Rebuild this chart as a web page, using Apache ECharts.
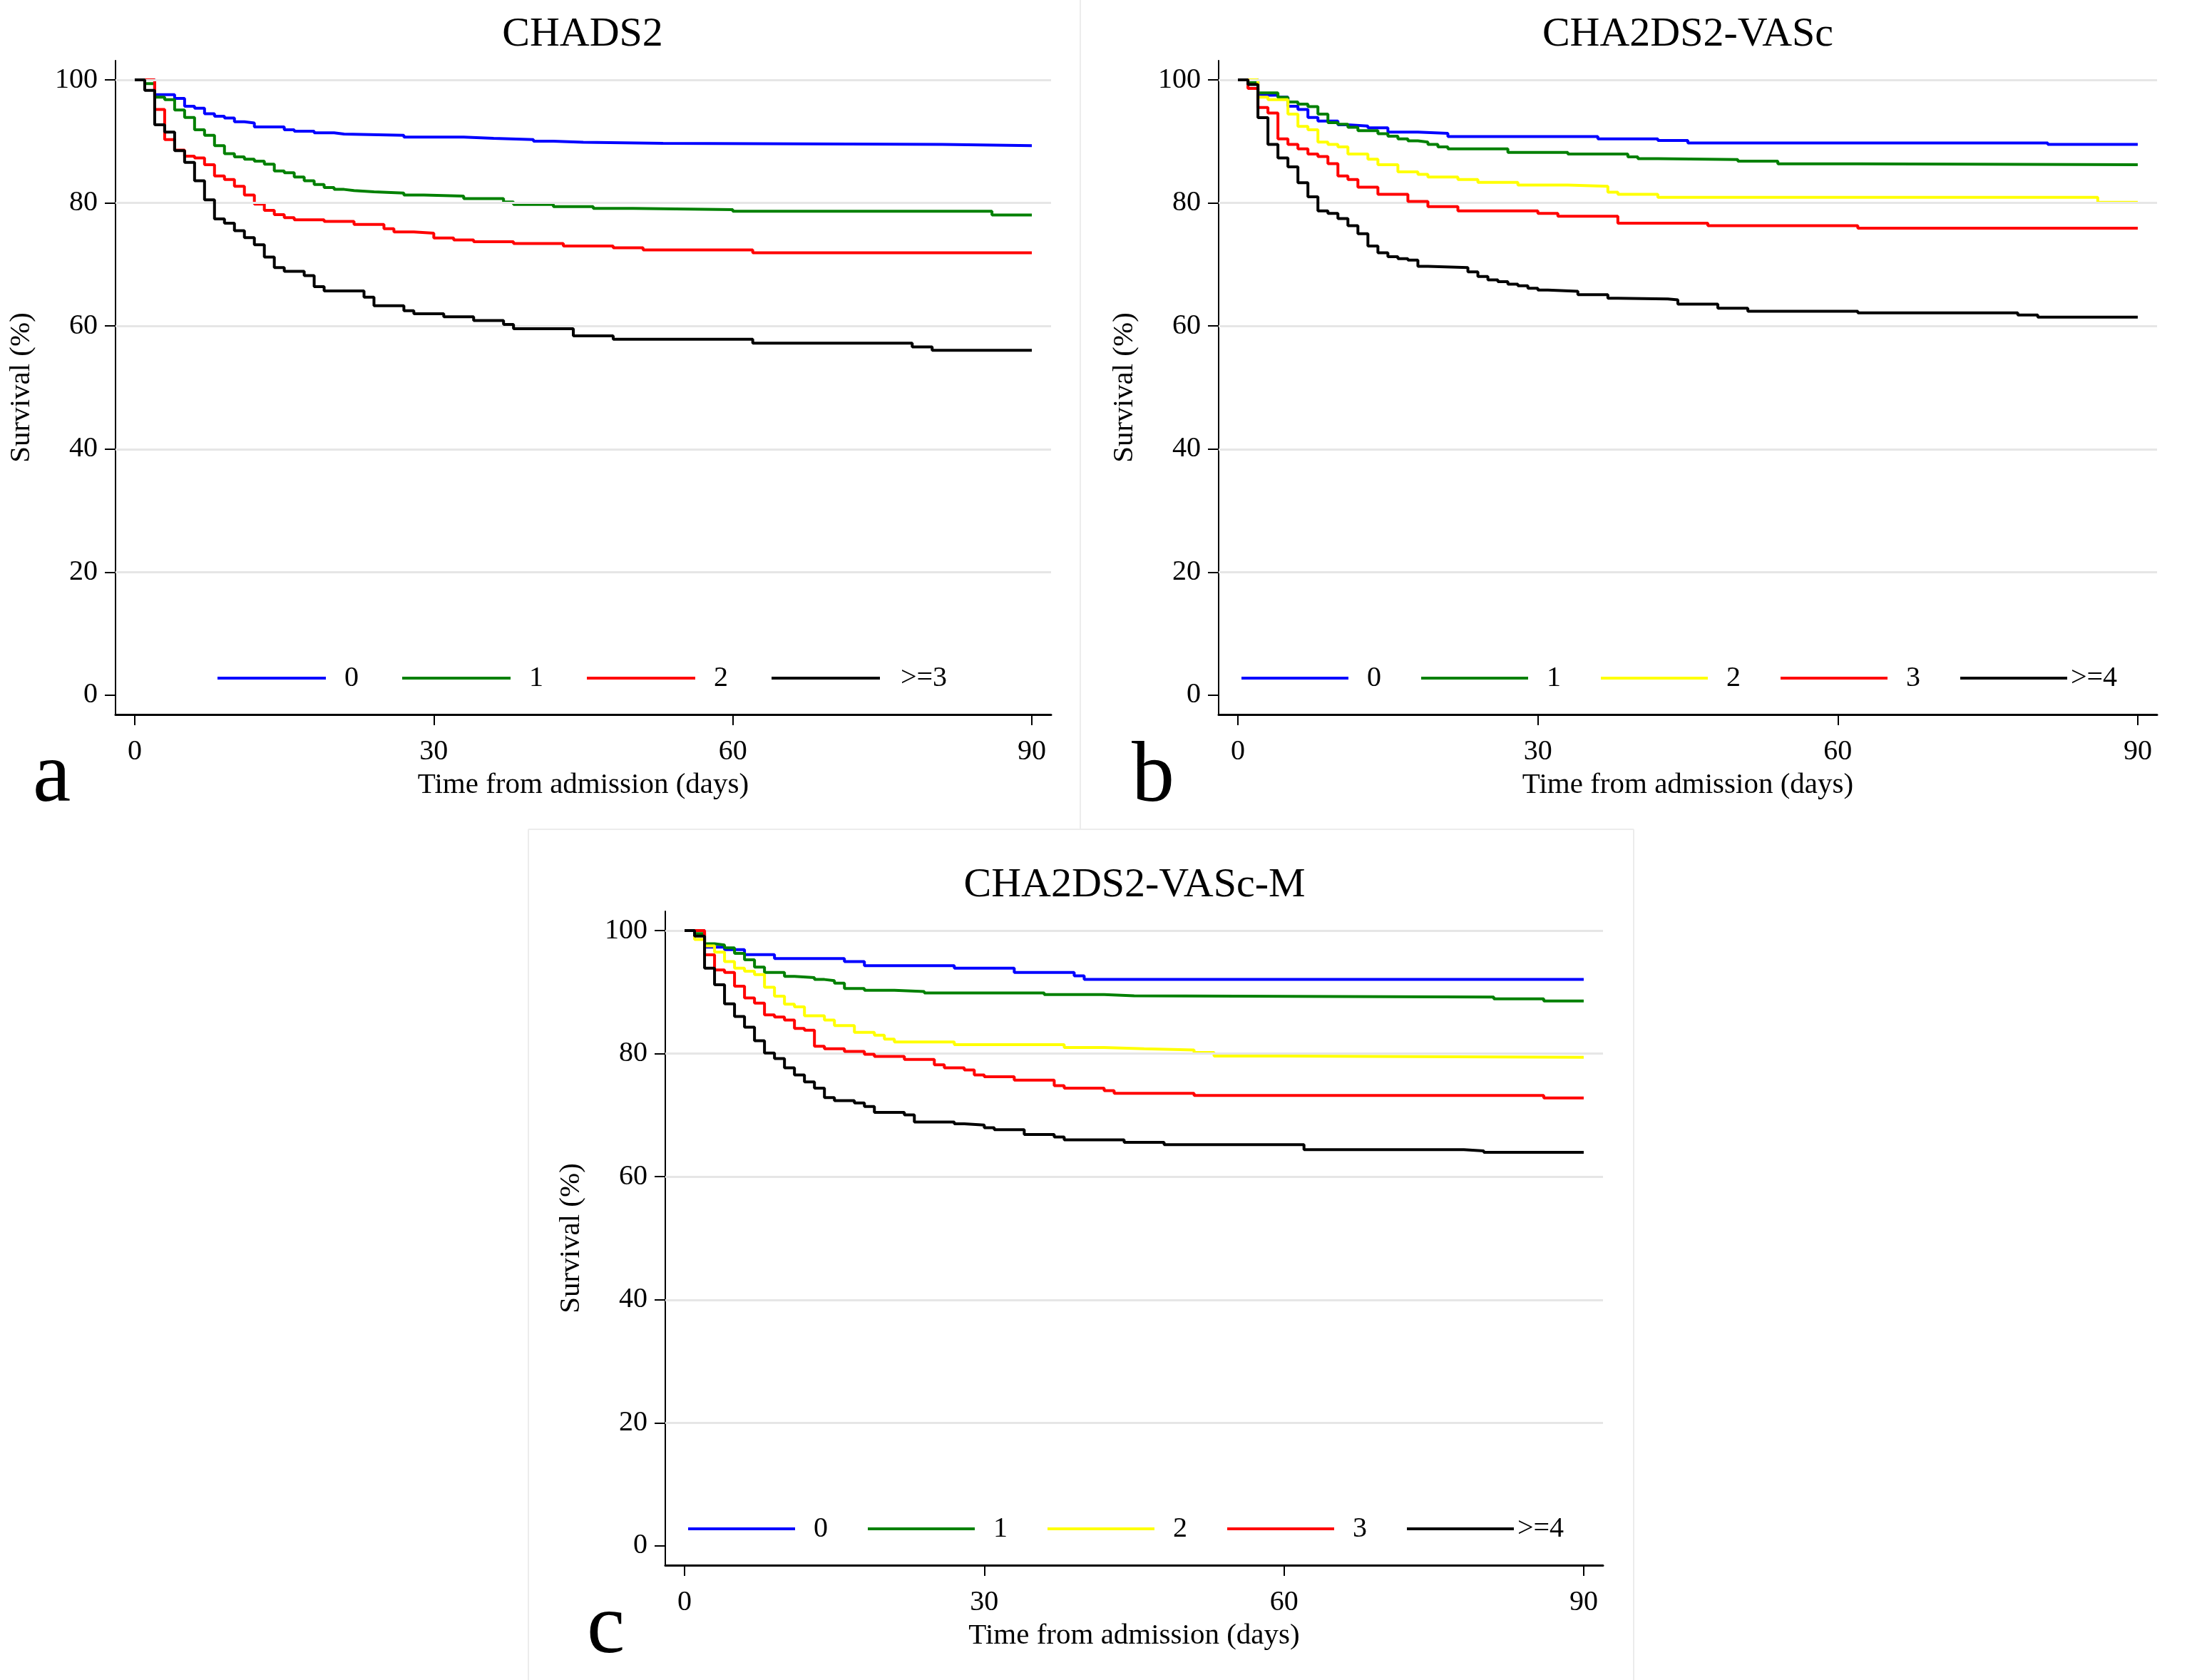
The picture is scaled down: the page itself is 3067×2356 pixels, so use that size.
<!DOCTYPE html>
<html>
<head>
<meta charset="utf-8">
<script src="https://cdn.jsdelivr.net/npm/echarts@6/dist/echarts.min.js"></script>
<style>
html,body{margin:0;padding:0;background:#fff;}
#chart{width:3067px;height:2356px;}
</style>
</head>
<body>
<div id="chart"></div>
<script>
// ---------- DATA (Kaplan–Meier steps: [day, survival %]) ----------
const panelTitles = ['CHADS2', 'CHA2DS2-VASc', 'CHA2DS2-VASc-M'];
const panelLetters = ['a', 'b', 'c'];
const groupsA = ['0', '1', '2', '>=3'];
const groupsBC = ['0', '1', '2', '3', '>=4'];
const xTicks = [0, 30, 60, 90];
const yTicks = [0, 20, 40, 60, 80, 100];
const gridValues = [20, 40, 60, 80, 100];
const xTitle = 'Time from admission (days)';
const yTitle = 'Survival (%)';

// Panel a: CHADS2
const chads2_0 = [[0,100],[2,97.6],[4,97.0],[5,95.7],[6,95.4],[7,94.5],[8,94.1],[9,93.8],[10,93.2],[11,93.0],[12,92.35],[15,91.9],[16,91.65],[18,91.4],[20,91.2],[21,91.0],[27,90.7],[33,90.5],[36,90.3],[40,90.05],[42,89.85],[45,89.7],[53,89.5],[81,89.3],[90,89.3]];
const chads2_1 = [[0,100],[1,99.4],[2,97.2],[3,96.8],[4,95.1],[5,93.9],[6,91.9],[7,91.0],[8,89.3],[9,88.0],[10,87.5],[11,87.1],[12,86.8],[13,86.3],[14,85.2],[15,84.9],[16,84.2],[17,83.6],[18,83.0],[19,82.5],[20,82.2],[21,82.0],[22,81.8],[24,81.6],[27,81.3],[29,81.1],[33,80.7],[37,80.15],[38,79.75],[42,79.4],[46,79.1],[50,78.9],[60,78.65],[86,78.05],[90,78.05]];
const chads2_2 = [[0,100],[2,95.2],[3,90.3],[4,88.6],[5,87.6],[6,87.3],[7,86.2],[8,84.4],[9,83.8],[10,82.7],[11,81.3],[12,79.8],[13,78.8],[14,78.1],[15,77.6],[16,77.25],[19,77.0],[22,76.5],[25,75.8],[26,75.3],[28,75.1],[30,74.3],[32,74.0],[34,73.7],[38,73.4],[43,73.0],[48,72.7],[51,72.35],[62,71.9],[90,71.9]];
const chads2_3 = [[0,100],[1,98.3],[2,92.7],[3,91.5],[4,88.5],[5,86.6],[6,83.6],[7,80.5],[8,77.4],[9,76.7],[10,75.5],[11,74.35],[12,73.2],[13,71.2],[14,69.5],[15,68.9],[17,68.2],[18,66.4],[19,65.7],[23,64.7],[24,63.3],[27,62.5],[28,62.0],[31,61.5],[34,60.9],[37,60.25],[38,59.55],[44,58.4],[48,57.85],[62,57.2],[78,56.6],[80,56.05],[90,56.05]];

// Panel b: CHA2DS2-VASc
const vasc_0 = [[0,100],[2,97.5],[4,97.2],[5,95.7],[6,95.2],[7,93.9],[8,93.3],[10,92.7],[11,92.5],[13,92.2],[15,91.5],[18,91.3],[21,90.8],[36,90.4],[42,90.15],[45,89.75],[81,89.5],[90,89.5]];
const vasc_1 = [[0,100],[1,99.65],[2,97.9],[4,97.15],[5,96.4],[6,96.05],[7,95.65],[8,94.45],[9,93.05],[10,92.8],[11,92.3],[12,91.75],[14,91.25],[15,90.85],[16,90.4],[17,90.1],[18,89.9],[19,89.5],[20,89.1],[21,88.8],[27,88.2],[33,87.95],[39,87.5],[40,87.2],[42,87.05],[50,86.8],[54,86.35],[62,86.2],[90,86.2]];
const vasc_2 = [[0,100],[2,97.2],[3,96.8],[5,94.45],[6,92.45],[7,91.9],[8,89.9],[9,89.5],[10,89.1],[11,87.95],[13,87.1],[14,86.2],[16,85.05],[18,84.65],[19,84.2],[22,83.8],[24,83.35],[28,82.9],[33,82.7],[37,81.75],[38,81.4],[42,80.9],[86,80.1],[90,80.1]];
const vasc_3 = [[0,100],[1,98.6],[2,95.5],[3,94.6],[4,90.4],[5,89.5],[6,88.8],[7,87.95],[8,87.55],[9,86.4],[10,84.4],[11,83.8],[12,82.55],[14,81.4],[17,80.25],[19,79.4],[22,78.7],[30,78.3],[32,77.85],[38,76.7],[47,76.3],[62,75.9],[90,75.9]];
const vasc_4 = [[0,100],[1,99.25],[2,93.85],[3,89.5],[4,87.3],[5,85.85],[6,83.3],[7,81.0],[8,78.7],[9,78.3],[10,77.45],[11,76.3],[12,75.0],[13,73.0],[14,71.9],[15,71.25],[16,70.95],[17,70.7],[18,69.7],[19,69.5],[23,68.8],[24,68.05],[25,67.5],[26,67.2],[27,66.8],[28,66.55],[29,66.15],[30,65.85],[31,65.65],[34,65.1],[37,64.5],[38,64.4],[43,64.25],[44,63.55],[48,62.9],[51,62.4],[62,62.15],[78,61.8],[80,61.45],[90,61.45]];

// Panel c: CHA2DS2-VASc-M
const vascm_0 = [[0,100],[2,97.3],[4,96.9],[6,96.1],[9,95.45],[16,94.95],[18,94.3],[27,93.9],[33,93.2],[39,92.65],[40,92.05],[90,92.05]];
const vascm_1 = [[0,100],[1,99.5],[2,97.85],[3,97.65],[4,97.2],[5,96.3],[6,95.25],[7,94.05],[8,93.2],[10,92.55],[11,92.35],[13,92.05],[14,91.85],[15,91.45],[16,90.6],[18,90.3],[21,90.1],[24,89.85],[36,89.6],[42,89.4],[45,89.2],[81,88.9],[86,88.55],[90,88.55]];
const vascm_2 = [[0,100],[1,98.55],[2,97.5],[3,96.5],[4,94.95],[5,93.9],[6,93.4],[7,92.85],[8,90.8],[9,89.35],[10,88.05],[11,87.6],[12,86.15],[14,85.45],[15,84.55],[17,83.45],[19,83.0],[20,82.35],[21,81.9],[27,81.45],[38,81.0],[42,80.8],[46,80.6],[51,80.2],[53,79.6],[60,79.4],[90,79.4]];
const vascm_3 = [[0,100],[2,96.05],[3,93.6],[4,93.2],[5,90.95],[6,89.05],[7,88.2],[8,86.3],[9,85.95],[10,85.45],[11,84.1],[12,83.8],[13,81.2],[14,80.8],[16,80.35],[18,79.9],[19,79.55],[22,79.05],[25,78.2],[26,77.7],[28,77.35],[29,76.55],[30,76.25],[33,75.7],[37,74.8],[38,74.4],[42,74.0],[43,73.55],[51,73.2],[86,72.8],[90,72.8]];
const vascm_4 = [[0,100],[1,99.1],[2,93.9],[3,91.2],[4,88.1],[5,86.05],[6,84.3],[7,82.1],[8,80.1],[9,79.2],[10,77.7],[11,76.55],[12,75.4],[13,74.4],[14,72.85],[15,72.35],[17,72.0],[18,71.4],[19,70.45],[22,70.05],[23,68.9],[27,68.6],[28,68.4],[30,67.95],[31,67.65],[34,66.85],[37,66.45],[38,66.0],[44,65.6],[48,65.2],[62,64.4],[78,64.2],[80,63.95],[90,63.95]];

const colorsA = ['#0000ff', '#008000', '#ff0000', '#000000'];
const colorsBC = ['#0000ff', '#008000', '#ffff00', '#ff0000', '#000000'];

// ---------- LAYOUT / STYLE ----------
const FONT = "'Liberation Serif','Times New Roman',serif";
const XMIN = -1.93, XMAX = 91.93, YMIN = -3.13, YMAX = 103.13;
const CURVE_W = 4;

const panels = [
  { key: 'a', groups: groupsA, colors: colorsA, data: [chads2_0, chads2_1, chads2_2, chads2_3],
    grid: { left: 162, top: 85, width: 1312, height: 917 },
    legend: { left: 305, top: 931, itemWidth: 152, itemGap: 40, widePad: 24 } },
  { key: 'b', groups: groupsBC, colors: colorsBC, data: [vasc_0, vasc_1, vasc_2, vasc_3, vasc_4],
    grid: { left: 1709, top: 85, width: 1316, height: 917 },
    legend: { left: 1741, top: 931, itemWidth: 150, itemGap: 35, widePad: 0 } },
  { key: 'c', groups: groupsBC, colors: colorsBC, data: [vascm_0, vascm_1, vascm_2, vascm_3, vascm_4],
    grid: { left: 933, top: 1278, width: 1315, height: 917 },
    legend: { left: 965, top: 2124, itemWidth: 150, itemGap: 35, widePad: 0 } }
];

const grids = [], xAxes = [], yAxes = [], legends = [], series = [], graphics = [];

panels.forEach((p, i) => {
  grids.push(Object.assign({ containLabel: false, outerBoundsMode: 'none' }, p.grid));
  xAxes.push({
    type: 'value', gridIndex: i, min: XMIN, max: XMAX,
    name: xTitle, nameLocation: 'middle', nameGap: 79,
    nameTextStyle: { fontFamily: FONT, fontSize: 41, color: '#000' },
    axisLine: { show: true, onZero: false, lineStyle: { color: '#000', width: 3 } },
    axisTick: { show: true, length: 15, lineStyle: { color: '#000', width: 2 }, customValues: xTicks },
    axisLabel: { show: true, margin: 32, fontFamily: FONT, fontSize: 40, color: '#000', customValues: xTicks },
    splitLine: { show: false }
  });
  yAxes.push({
    type: 'value', gridIndex: i, min: YMIN, max: YMAX,
    name: yTitle, nameLocation: 'middle', nameGap: 111,
    nameTextStyle: { fontFamily: FONT, fontSize: 41, color: '#000' },
    axisLine: { show: true, onZero: false, lineStyle: { color: '#000', width: 2 } },
    axisTick: { show: true, length: 15, lineStyle: { color: '#000', width: 2 }, customValues: yTicks },
    axisLabel: { show: true, margin: 25, fontFamily: FONT, fontSize: 40, color: '#000', customValues: yTicks },
    splitLine: { show: false }
  });
  // grid lines (through the axis scale via markLine)
  series.push({
    type: 'line', name: '__grid' + i, xAxisIndex: i, yAxisIndex: i, z: 1,
    data: [[0, 100]], showSymbol: false, symbol: 'none', lineStyle: { width: 0 },
    silent: true,
    markLine: {
      silent: true, symbol: ['none', 'none'], label: { show: false },
      lineStyle: { color: '#e6e6e6', width: 3, type: 'solid' },
      data: gridValues.map(v => ({ yAxis: v }))
    }
  });
  const names = [];
  p.groups.forEach((g, j) => {
    const nm = p.key + '|' + g;
    names.push(nm);
    series.push({
      type: 'line', name: nm, xAxisIndex: i, yAxisIndex: i, z: 2 + j,
      step: 'end', data: p.data[j], showSymbol: false, symbol: 'none',
      color: p.colors[j],
      itemStyle: { color: p.colors[j] },
      lineStyle: { color: p.colors[j], width: CURVE_W }
    });
  });
  legends.push({
    left: p.legend.left, top: p.legend.top, orient: 'horizontal', padding: 0,
    itemWidth: p.legend.itemWidth, itemHeight: 4, itemGap: p.legend.itemGap, icon: 'rect',
    selectedMode: false, data: names,
    formatter: n => { const lab = n.split('|')[1]; return lab.charAt(0) === '>' ? '{w|' + lab + '}' : '{c|' + lab + '}'; },
    textStyle: {
      fontFamily: FONT, fontSize: 40, color: '#000',
      rich: {
        c: { width: 62, align: 'center', fontFamily: FONT, fontSize: 40, lineHeight: 40, color: '#000' },
        w: { padding: [0, 0, 0, p.legend.widePad], fontFamily: FONT, fontSize: 40, lineHeight: 40, color: '#000' }
      }
    }
  });
});

// panel titles and letters
const titleCenters = [[817, 49], [2367, 49], [1591, 1242]];
const letterPos = [[46, 1091], [1587, 1091], [823, 2285]];
panelTitles.forEach((t, i) => {
  graphics.push({ type: 'text', x: titleCenters[i][0], y: titleCenters[i][1], silent: true,
    style: { text: t, fontFamily: FONT, fontSize: 58, fill: '#000', align: 'center', verticalAlign: 'middle', textAlign: 'center', textVerticalAlign: 'middle' } });
  graphics.push({ type: 'text', x: letterPos[i][0], y: letterPos[i][1], silent: true,
    style: { text: panelLetters[i], fontFamily: FONT, fontSize: 120, fill: '#000', align: 'left', verticalAlign: 'middle', textAlign: 'left', textVerticalAlign: 'middle' } });
});
// faint panel separators
const sep = { stroke: '#ececec', lineWidth: 2 };
graphics.push({ type: 'line', silent: true, shape: { x1: 1515, y1: 0, x2: 1515, y2: 1163 }, style: sep });
graphics.push({ type: 'line', silent: true, shape: { x1: 741, y1: 1163, x2: 2291, y2: 1163 }, style: sep });
graphics.push({ type: 'line', silent: true, shape: { x1: 2291, y1: 1163, x2: 2291, y2: 2356 }, style: sep });
graphics.push({ type: 'line', silent: true, shape: { x1: 741, y1: 1163, x2: 741, y2: 2356 }, style: sep });

const chart = echarts.init(document.getElementById('chart'), null, { renderer: 'canvas' });
chart.setOption({
  backgroundColor: '#ffffff',
  animation: false,
  grid: grids,
  xAxis: xAxes,
  yAxis: yAxes,
  legend: legends,
  series: series,
  graphic: graphics
});
</script>
</body>
</html>
